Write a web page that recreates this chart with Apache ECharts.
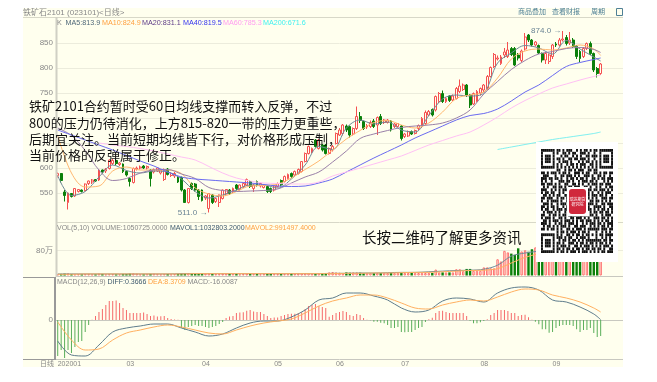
<!DOCTYPE html>
<html>
<head>
<meta charset="utf-8">
<title>铁矿石2101</title>
<style>
html, body { margin: 0; padding: 0; background: #fff; }
#chart { width: 657px; height: 382px; }
</style>
<script src="https://cdn.jsdelivr.net/npm/echarts@6/dist/echarts.min.js"></script>
</head>
<body>
<div id="chart"></div>
<script>
// candles, one per trading day
const opens = [
  585,589,552,531,549,544,553,556,555,569,
  572,577,576,596,594,599,609,615,607,608,
  593,579,571,598,600,604,600,596,592,594,
  590,577,598,585,584,582,581,556,531,569,
  568,556,556,540,519,546,533,531,539,548,
  556,553,566,557,563,566,573,559,573,564,
  561,563,559,556,563,575,573,579,589,586,
  589,593,613,629,632,656,639,646,646,629,
  636,649,666,669,684,683,668,679,703,693,
  682,683,694,686,703,691,691,694,683,683,
  684,663,664,673,669,679,683,689,706,717,
  716,733,749,733,744,736,739,753,757,766,
  746,728,733,750,756,759,783,803,818,809,
  826,823,839,839,826,815,838,866,856,846,
  845,829,816,813,823,848,846,856,861,850,
  856,843,833,823,839,849,829,799,789];
const closes = [
  589,575,545,550,543,559,557,553,568,574,
  576,574,596,592,597,616,615,609,610,593,
  586,573,599,600,602,600,603,579,597,600,
  596,597,587,589,589,572,556,531,559,559,
  556,543,535,544,549,531,539,546,556,557,
  549,559,559,566,569,577,563,566,566,569,
  566,553,553,564,569,566,583,587,583,593,
  597,613,629,643,639,643,656,636,629,639,
  643,669,676,686,676,666,679,703,695,679,
  685,691,683,701,689,696,696,676,688,689,
  659,668,673,668,675,685,699,711,713,706,
  743,749,733,739,735,744,759,764,766,746,
  726,749,753,759,766,783,801,827,820,822,
  832,836,827,806,820,834,862,856,846,852,
  830,816,829,826,846,846,856,858,849,856,
  843,823,819,839,849,829,796,789,808];
const lows = [
  581,571,533,517,541,542,551,551,553,566,
  568,572,574,589,590,597,606,606,604,590,
  583,563,569,595,597,598,597,563,589,592,
  587,574,585,582,580,570,553,530,529,556,
  553,536,533,536,511,528,530,522,537,545,
  546,550,555,555,560,564,560,552,563,561,
  559,550,550,553,561,563,571,577,580,583,
  587,591,611,627,629,641,637,633,627,627,
  633,647,664,665,672,661,665,676,690,676,
  678,680,680,666,686,688,689,673,680,681,
  655,660,662,666,667,676,680,686,704,703,
  713,730,730,730,732,734,737,750,754,742,
  720,726,731,745,752,756,781,800,815,806,
  820,820,824,804,815,812,835,852,843,843,
  828,811,808,808,818,842,843,853,845,846,
  840,818,812,820,836,826,792,781,786];
const highs = [
  591,590,556,551,550,560,558,557,569,575,
  578,578,597,597,600,617,618,618,612,609,
  595,582,601,603,605,606,605,598,599,602,
  598,599,600,591,592,584,583,558,560,571,
  570,558,557,546,550,548,541,547,557,558,
  558,561,568,567,571,579,575,568,575,571,
  568,565,561,565,571,577,585,589,591,595,
  599,614,631,645,641,658,658,648,648,641,
  646,671,680,688,687,685,681,723,712,695,
  688,695,698,703,708,698,698,696,690,690,
  686,670,675,675,677,687,702,715,716,719,
  745,752,755,742,746,747,762,777,769,768,
  748,751,756,761,768,786,803,830,825,826,
  840,852,842,842,830,837,870,868,858,854,
  847,831,832,829,848,852,860,874,866,872,
  860,846,836,842,851,853,831,802,810];

// volume in units of 万
const volumes = [
  4,5,6,7,5,4,5,4,5,5,
  4,4,6,5,4,5,5,4,4,5,
  5,6,7,6,4,4,5,5,6,5,
  4,5,5,4,5,5,6,7,8,6,
  5,6,7,6,8,6,5,5,6,6,
  5,5,5,4,5,6,5,5,5,4,
  5,5,5,5,5,5,5,5,6,6,
  6,7,8,8,7,7,8,8,7,10,
  11,10,9,8,10,9,10,10,9,8,
  8,8,8,8,8,8,8,8,8,8,
  8,8,8,8,8,8,8,8,8,8,
  19,10,10,10,10,10,20,20,14,21,
  21,15,15,15,26,26,23,23,52,45,
  79,74,70,66,87,77,81,76,84,90,
  88,95,100,92,85,70,85,95,110,100,
  105,115,120,95,90,110,140,125,105];

const macdBars = [
  -36,-30,-38,-30,-33,-27,-22,-21,-12,-5,
  0.3,4,8,11,15,19,19,19.5,17,12,
  10,7,7,7,7,7.5,6,4,4.5,3.5,
  3.7,4,2,1,0.5,0.3,-8,-10,-7,-6,
  -5,-6,-6,-7,-8,-7,-6,-4,-2,2,
  3.5,4,7,7.5,7.7,9.3,10,8.5,8,8,
  6,4,2,2.5,2.5,4,5,6,6.3,6.3,
  7,7.7,11,14,15,16,14,13,12,3.3,
  5,7,8,9,8,5,4,6,5,2,
  0.3,-0.3,-1.7,-1.7,-2.7,-3.3,-5,-8,-8,-7,
  -12,-12.3,-12,-12,-10,-8,-7,-2,0.7,2.3,
  7,9,9.3,8,7,7,7,7,7,4,
  -0.7,-3.3,-3.3,-2.3,-1,0.7,5,7,10,10,
  10,9,7,7,4,5,5.3,2.7,0.3,-1.7,
  -4.3,-9.3,-9.3,-12.7,-12,-8,-6,-5,-5,-5,
  -6,-9.3,-12,-10,-10,-8,-13,-17,-16];

const lineDays = [0,4,8,12,16,20,24,28,32,36,40,44,48,52,56,60,64,68,72,76,80,84,88,92,96,100,
  104,108,112,116,120,124,128,132,136,140,144,148,152,156,158];
const ma5 = [585,545,553,582,606,595,590,594,592,578,553,540,546,556,566,566,560,578,606,643,637,680,696,688,692,676,
  672,705,738,746,744,750,810,830,845,840,828,855,838,822,814];
const ma10 = [665,590,562,564,594,602,596,596,596,589,560,548,544,553,564,565,568,580,597,614,636,658,675,691,695,686,
  680,690,712,739,746,752,780,818,834,838,836,840,846,838,825];
const ma20 = [680,665,635,596,575,579,590,596,597,588,579,561,555,553,554,555,558,570,582,592,612,634,659,668,675,681,
  684,686,690,700,716,748,773,797,815,828,833,839,841,837,831];
const ma40 = [676,666,656,646,636,625,614,604,592,582,578,576,574,572,570,567,564,563,564,570,578,592,606,620,633,646,
  660,672,684,696,705,709,718,734,752,766,785,803,811,817,820];
const ma60 = [null,null,null,650,646,643,639,634,628,622,616,603,590,580,574,570,569,568,568,572,584,592,600,608,616,624,
  635,646,655,664,672,686,702,720,735,748,760,768,776,783,786];
const ma200 = [null,null,null,null,null,null,null,null,null,null,null,null,null,null,null,null,null,null,null,null,null,null,null,null,null,null,
  null,null,null,null,null,null,637,642,647,652,657,661,665,669,672];
const mavol1 = [5,5,5,5,5,5,5,5,5,6,6,6,6,6,6,6,6,6,6,6,7,7,8,8,9,10,
  10,12,14,16,17,20,33,62,72,78,85,92,98,102,103];
const mavol2 = [4,4,5,5,5,5,5,5,5,5,6,6,6,6,6,6,6,6,6,6,6,7,7,8,8,9,
  10,10,12,14,16,17,22,40,58,70,80,88,92,97,99];
const diff = [-21,-35,-36,-25,-12,-8,-6,-4,-4,-8,-12,-16,-14,-8,-3,-1,-1,3,10,20,22,27,27,24,20,12,
  8,10,19,22,21,18,27,32,33,30,20,18,13,6,0.4];
const dea = [-2,-20,-30,-29,-20,-13,-10,-7,-5,-7,-10,-13,-14,-10,-6,-3,-1,1,7,14,19,22,25,25,22,17,
  12,11,15,18,20,19,23,28,31,30,25,22,18,12,8];

// x axis month labels
const tickDays = [0,20,42,63,81,100,123,144];
const tickLabels = ['202001','03','04','05','06','07','08','09'];

const totalSlots = 165; // a few empty slots are left at the right edge

const infoLines = [
  '铁矿2101合约暂时受60日均线支撑而转入反弹，不过',
  '800的压力仍待消化，上方815-820一带的压力更重些，',
  '后期宜关注。当前短期均线皆下行，对价格形成压制，',
  '当前价格的反弹属于修正。'
];

// the code picture, not chart data
const qrRows = [
  '#######.##.#.###..#.#.##.#.##.#######',
  '#.....#.#..##.#.##..###.#..#..#.....#',
  '#.###.#...#.##..#.#.#..##.###.#.###.#',
  '#.###.#.##.#..##.##.###.#..#..#.###.#',
  '#.###.#..#.###.#...#.#.##.#.#.#.###.#',
  '#.....#.#.#..#.##.#.###..##.#.#.....#',
  '#######.#.#.#.#.#.#.#.#.#.#.#.#######',
  '........##..#.##.#.###..##.##.........',
  '##.#.###.#.##.#..###.#.##..##.#.##.##',
  '.###...#..##.###.#.#..###.#..##.#..#.',
  '###.##.##.#..#.##.#.##.#..##.#.##.###',
  '#.#..#...###.##.#..#.###.##.#...#.#.#',
  '##.###.#.#..##..##.#.#..#.###.##.###.',
  '.#.#..##.##.#.##.###..##.#..#.#..#.##',
  '###..#.#.#.###...#.##.#.##.##.###.#.#',
  '#.##.##..#.#..#.##.#..###.#..#.#.###.',
  '.##.#.#.##..##.......##.#.###.##.#..#',
  '##.###..#.##.#.......#.##.#.#..###.##',
  '#..#.####.#..#.......##..##.##.#.#.#.',
  '.###.#..#.###.........#.###.#..##.###',
  '##.#.##.#..#.#.......##.#..####.#..##',
  '#.##..#.###.##.......#..##.#.#.##.#.#',
  '.#.###.#.#..#.#.#.##.###.#.##.##.##.#',
  '##..#.##.#.##.##.#..##.#.##.#..#.###.',
  '#.###.#..##.#..##.###.#.#..###.##.#.#',
  '.##.#.###.#.###.#.#.##.###.#.#.#.##.#',
  '###.#..#.##.#.###.#..#.#.###.##.#.###',
  '.#.##.#.#.###.#..##.###..#.#.#.##.#.#',
  '##.#.##.#.#..##.#.###.#.######.###.##',
  '........#.##.#.###.#.##.#...#..#.#.#.',
  '#######.#.#..##.#.##.#.##.#.#.##.####',
  '#.....#.###.#.##..#.###.#...#..#.#.#.',
  '#.###.#..#.##.#.##.#.#.########.##.##',
  '#.###.#.##.#..###.#.##.#.##.#.##.#.#.',
  '#.###.#.#.###.#..##.#.###.#.#.#.###.#',
  '#.....#.##.#.##.#.##.#.##.##.##.#..##',
  '#######.#.##.#.###.#.###.#.#.#.##.###'
];

function linePoints(values) {
  return values.map(function (v, i) { return [lineDays[i], v]; });
}

function maLine(name, values, color, xIdx, yIdx) {
  return {
    name: name, type: 'line', data: linePoints(values),
    xAxisIndex: xIdx, yAxisIndex: yIdx,
    symbol: 'none', smooth: 0.35, z: 3,
    lineStyle: { color: color, width: 1 }
  };
}

function txt(x, y, text, color, size, extra) {
  return {
    type: 'text', x: x, y: y, silent: true, z: 50,
    style: Object.assign({
      text: text, fill: color, fontSize: size,
      fontFamily: '"Liberation Sans", "Noto Sans CJK SC", sans-serif',
      verticalAlign: 'middle'
    }, extra || {})
  };
}

function hline(x1, x2, y, color, w) {
  return { type: 'line', silent: true, z: 40,
    shape: { x1: x1, y1: y, x2: x2, y2: y }, style: { stroke: color, lineWidth: w || 1 } };
}
function vline(x, y1, y2, color, w) {
  return { type: 'line', silent: true, z: 40,
    shape: { x1: x, y1: y1, x2: x, y2: y2 }, style: { stroke: color, lineWidth: w || 1 } };
}

var graphics = [
  { type: 'rect', silent: true, z: -10, shape: { x: 23, y: 8, width: 600, height: 359 }, style: { fill: '#ffffee' } },
  hline(23, 623, 17.5, '#d8d8c8'),
  hline(56, 623, 222.5, '#d8d8c8'),
  hline(56, 623, 276.5, '#c8c8c0'),
  hline(56, 623, 359.5, '#c8c8c0'),
  hline(23, 56, 277.5, '#999'),
  hline(23, 56, 359.5, '#999'),
  vline(55, 277, 360, '#999', 2),
  vline(56.5, 17, 277, '#d0d0c4', 2),
  txt(23, 12.5, '铁矿石2101 (023101)<日线>', '#888', 8),
  txt(518, 12.5, '商品叠加', '#4f8096', 7, { textDecoration: 'underline' }),
  txt(552, 12.5, '查看财报', '#4f8096', 7, { textDecoration: 'underline' }),
  txt(591, 12.5, '周期', '#4f8096', 7, { textDecoration: 'underline' }),
  { type: 'rect', silent: true, z: 40, shape: { x: 616.5, y: 8.5, width: 6, height: 7 },
    style: { fill: 'none', stroke: '#4f8096' } },
  txt(57, 23, 'K', '#888', 7.2),
  txt(65.5, 23, 'MA5:813.9', '#4f6878', 7.2),
  txt(102, 23, 'MA10:824.9', '#ffa040', 7.2),
  txt(142, 23, 'MA20:831.1', '#5d3a86', 7.2),
  txt(183, 23, 'MA40:819.5', '#3434ee', 7.2),
  txt(223, 23, 'MA60:785.3', '#ff9cf0', 7.2),
  txt(263, 23, 'MA200:671.6', '#40f0f0', 7.2),
  txt(57, 228, 'VOL(5,10) VOLUME:1050725.0000', '#888', 7),
  txt(170, 228, 'MAVOL1:1032803.2000', '#3f5a6e', 7),
  txt(245, 228, 'MAVOL2:991497.4000', '#ffa040', 7),
  txt(57, 282, 'MACD(12,26,9)', '#888', 7),
  txt(107.5, 282, 'DIFF:0.3666', '#3f5a6e', 7),
  txt(148, 282, 'DEA:8.3709', '#ffa040', 7),
  txt(187.5, 282, 'MACD:-16.0087', '#888', 7),
  txt(40, 364, '日线', '#888', 7),
  txt(362, 237, '长按二维码了解更多资讯', '#111', 14.5, { fontFamily: '"Noto Sans CJK SC", sans-serif' }),
  // code picture
  { type: 'rect', silent: true, z: 60, shape: { x: 536, y: 142, width: 82, height: 120 }, style: { fill: '#fff' } }
];

infoLines.forEach(function (line, i) {
  graphics.push(txt(29, 106.5 + i * 16.2, line, '#111', 13, { fontFamily: '"Noto Sans CJK SC", sans-serif' }));
});

var cellW = 72 / 37, cellH = 104 / 37;
qrRows.forEach(function (row, r) {
  for (var c = 0; c < 37; c++) {
    if (row[c] === '#') {
      graphics.push({ type: 'rect', silent: true, z: 61,
        shape: { x: 541 + c * cellW, y: 149 + r * cellH, width: cellW, height: cellH },
        style: { fill: '#111' } });
    }
  }
});
graphics.push({ type: 'rect', silent: true, z: 62, shape: { x: 567, y: 187, width: 21, height: 29 }, style: { fill: '#fff' } });
graphics.push({ type: 'rect', silent: true, z: 63, shape: { x: 569, y: 189, width: 17, height: 25, r: 3 }, style: { fill: '#d0283c' } });
graphics.push(txt(577.5, 199, '瑞达期货', '#fff', 4, { align: 'center', fontFamily: '"Noto Sans CJK SC", sans-serif' }));
graphics.push(txt(577.5, 204, '研究院', '#fff', 4, { align: 'center', fontFamily: '"Noto Sans CJK SC", sans-serif' }));
graphics.slice(-2).forEach(function (g) { g.z = 64; });

var slots = [];
for (var s = 0; s < totalSlots; s++) slots.push(String(s));

var candleData = opens.map(function (o, i) { return [o, closes[i], lows[i], highs[i]]; });

var volumeData = volumes.map(function (v, i) {
  var up = closes[i] >= opens[i];
  return {
    value: v,
    itemStyle: up
      ? { color: '#ffffee', borderColor: '#ff7070', borderWidth: 1 }
      : { color: '#0a800a', borderColor: '#0a800a', borderWidth: 0 }
  };
});

var gridLine = { show: true, lineStyle: { color: '#ececdc', width: 1 }, showMinLine: false, showMaxLine: false };
var labelBase = { color: '#888', fontSize: 8, fontFamily: '"Liberation Sans", "Noto Sans CJK SC", sans-serif', margin: 3 };

function plainX(gridIndex, extra) {
  return Object.assign({
    type: 'category', gridIndex: gridIndex, data: slots, boundaryGap: true,
    axisLine: { show: false }, axisTick: { show: false }, axisLabel: { show: false },
    splitLine: { show: false }
  }, extra || {});
}

var option = {
  animation: false,
  backgroundColor: '#fff',
  graphic: { elements: graphics },
  grid: [
    { left: 56, width: 567, top: 18, height: 200 },
    { left: 56, width: 567, top: 225.5, height: 50 },
    { left: 56, width: 567, top: 280, height: 80 }
  ],
  xAxis: [
    plainX(0),
    plainX(1),
    plainX(2, {
      axisLabel: {
        show: true, color: '#888', fontSize: 7, margin: 1, align: 'left',
        fontFamily: '"Liberation Sans", sans-serif',
        interval: function (i) { return tickDays.indexOf(i) >= 0; },
        formatter: function (v, i) { return tickLabels[tickDays.indexOf(i)] || ''; }
      }
    })
  ],
  yAxis: [
    {
      type: 'value', gridIndex: 0, min: 500, max: 900, interval: 50,
      axisLine: { show: false }, axisTick: { show: false }, splitLine: gridLine,
      axisLabel: Object.assign({}, labelBase, {
        formatter: function (v) { return (v === 500 || v === 900 || v === 700 || v === 650) ? '' : String(v); }
      })
    },
    {
      type: 'value', gridIndex: 1, min: 0, max: 160, interval: 80,
      axisLine: { show: false }, axisTick: { show: false }, splitLine: gridLine,
      axisLabel: Object.assign({}, labelBase, {
        formatter: function (v) { return v === 80 ? '80万' : ''; }
      })
    },
    {
      type: 'value', gridIndex: 2, min: -40, max: 40, interval: 40,
      axisLine: { show: false }, axisTick: { show: false },
      splitLine: { show: true, lineStyle: { color: '#c8c8c0' }, showMinLine: false, showMaxLine: false },
      axisLabel: Object.assign({}, labelBase, {
        formatter: function (v) { return v === 0 ? '0' : ''; }
      })
    }
  ],
  series: [
    {
      name: 'K', type: 'candlestick', xAxisIndex: 0, yAxisIndex: 0, data: candleData,
      barWidth: 2.4, z: 2,
      itemStyle: { color: '#ffffee', color0: '#0a800a', borderColor: '#f55050', borderColor0: '#0a800a', borderWidth: 1 },
      markPoint: {
        symbol: 'circle', symbolSize: 1, silent: true,
        itemStyle: { color: 'rgba(0,0,0,0)' },
        data: [
          { coord: [147, 874], name: '874.0 →' },
          { coord: [44, 511], name: '511.0 →' }
        ],
        label: { show: true, position: 'left', distance: 1, color: '#6a8494', fontSize: 8, fontFamily: '"Liberation Sans", sans-serif', formatter: '{b}' }
      }
    },
    maLine('MA5', ma5, '#6f8a98', 0, 0),
    maLine('MA10', ma10, '#ffb870', 0, 0),
    maLine('MA20', ma20, '#9a80a8', 0, 0),
    maLine('MA40', ma40, '#6a6af0', 0, 0),
    maLine('MA60', ma60, '#ffc0f5', 0, 0),
    maLine('MA200', ma200, '#80f0f0', 0, 0),
    { name: 'VOLUME', type: 'bar', xAxisIndex: 1, yAxisIndex: 1, data: volumeData, barWidth: 2.4 },
    maLine('MAVOL1', mavol1, '#6f8a98', 1, 1),
    maLine('MAVOL2', mavol2, '#ffb060', 1, 1),
    {
      name: 'MACD', type: 'bar', xAxisIndex: 2, yAxisIndex: 2, data: macdBars, barWidth: 1,
      itemStyle: { color: function (p) { return p.value >= 0 ? '#f56a6a' : '#5aae5a'; } }
    },
    maLine('DIFF', diff, '#5f7d8c', 2, 2),
    maLine('DEA', dea, '#ffb060', 2, 2)
  ]
};

var myChart = echarts.init(document.getElementById('chart'), null, { renderer: 'canvas' });
myChart.setOption(option);
</script>
</body>
</html>
